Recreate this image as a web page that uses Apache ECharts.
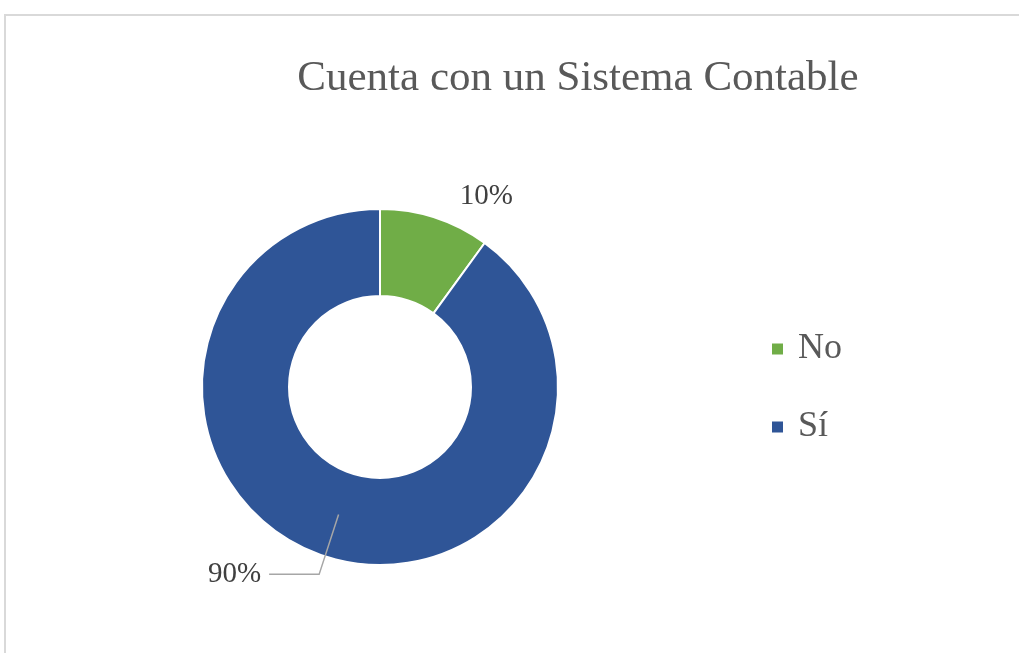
<!DOCTYPE html>
<html>
<head>
<meta charset="utf-8">
<script src="https://cdn.jsdelivr.net/npm/echarts@6/dist/echarts.min.js"></script>
<style>
  html, body { margin: 0; padding: 0; width: 1019px; height: 653px; overflow: hidden; background: #ffffff; }
  #frame { position: absolute; left: 4px; top: 14px; width: 1100px; height: 800px; border: 2px solid #d9d9d9; box-sizing: border-box; }
  #chart { position: absolute; left: 0; top: 0; width: 1019px; height: 653px; }
</style>
</head>
<body>
<div id="frame"></div>
<div id="chart"></div>
<script>
const titleText = 'Cuenta con un Sistema Contable';
const categories = ['No', 'Sí'];
const values = [10, 90];
const colors = ['#70AD47', '#2F5597'];

const FONT = '"Liberation Serif", "Times New Roman", serif';

const chart = echarts.init(document.getElementById('chart'), null, { renderer: 'canvas' });

// Main donut rings
const ringData = categories.map((name, i) => ({
  name: name,
  value: values[i],
  itemStyle: { color: colors[i] }
}));

// Transparent carrier series: its label lines start at mid-ring, like the reference
const labelData = categories.map((name, i) => ({
  name: name,
  value: values[i],
  labelLine: i === 0 ? { show: false, length: 66, length2: 10 } : { show: true, length: 63, length2: 50 }
}));

chart.setOption({
  backgroundColor: 'transparent',
  animation: false,
  title: {
    text: titleText,
    left: 573,
    textAlign: 'center',
    top: 52,
    textStyle: { fontFamily: FONT, fontSize: 43, fontWeight: 'normal', color: '#595959' }
  },
  legend: {
    orient: 'vertical',
    left: 765,
    top: 326,
    itemWidth: 13,
    itemHeight: 13,
    itemGap: 42,
    icon: 'rect',
    data: categories,
    selectedMode: false,
    textStyle: { fontFamily: FONT, fontSize: 36, color: '#595959', padding: [0, 0, 0, 9] }
  },
  series: [{
    type: 'pie',
    z: 2,
    center: [380, 387],
    radius: [91, 178],
    startAngle: 90,
    clockwise: true,
    silent: true,
    itemStyle: { borderColor: '#ffffff', borderWidth: 2 },
    label: { show: false },
    labelLine: { show: false },
    emphasis: { disabled: true },
    data: ringData
  }, {
    type: 'pie',
    z: 5,
    center: [380, 387],
    radius: [0, 134],
    startAngle: 90,
    clockwise: true,
    silent: true,
    avoidLabelOverlap: false,
    itemStyle: { color: 'rgba(0,0,0,0)', borderWidth: 0 },
    label: {
      show: true,
      position: 'outside',
      formatter: '{d}%',
      fontFamily: FONT,
      fontSize: 29,
      color: '#404040',
      distanceToLabelLine: 8
    },
    labelLine: { lineStyle: { color: '#A6A6A6', width: 1.5 } },
    emphasis: { disabled: true },
    data: labelData
  }]
});
</script>
</body>
</html>
